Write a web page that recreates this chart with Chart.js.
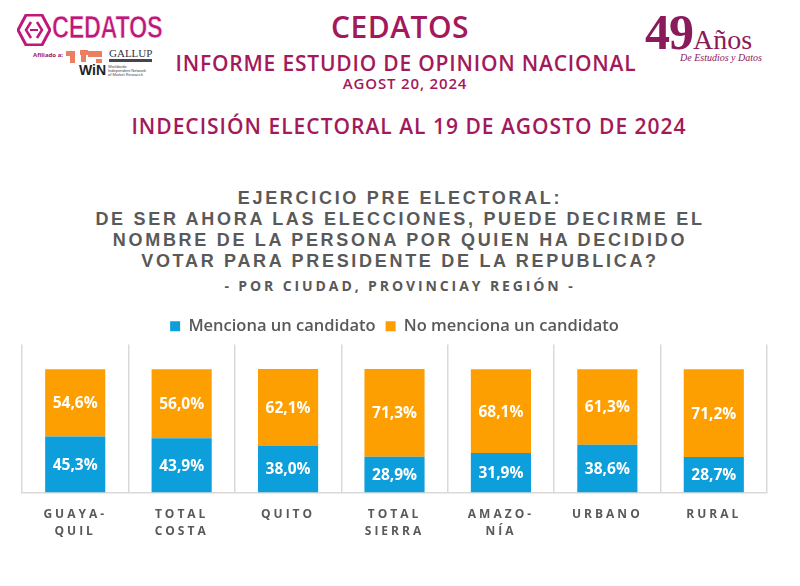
<!DOCTYPE html>
<html><head><meta charset="utf-8">
<script src="https://cdn.jsdelivr.net/npm/chart.js@4.4.1/dist/chart.umd.min.js"></script>
<style>
html,body{margin:0;padding:0;background:#fff;width:800px;height:586px;overflow:hidden;position:relative;font-family:"Open Sans",sans-serif}
.t{position:absolute;left:0;width:800px;text-align:center;color:#a3195b;white-space:nowrap}
#h1{top:6px;font-size:30px;font-weight:600;letter-spacing:0.5px}
#h2{top:49px;left:6px;font-size:21px;font-weight:600;letter-spacing:0.8px}
#h3{top:73px;left:5px;font-size:15px;font-weight:600;letter-spacing:0.85px}
#h4{top:112px;left:9px;font-size:21px;font-weight:600;letter-spacing:1px}
.q{position:absolute;left:0;width:800px;text-align:center;color:#595959;font-family:"Liberation Sans",Arial,sans-serif;font-weight:bold;font-size:18px;letter-spacing:2.7px;line-height:21px;top:188px;white-space:nowrap}
#sub{position:absolute;left:0;width:800px;text-align:center;color:#595959;font-weight:700;font-size:14px;letter-spacing:2.9px;top:276px;white-space:nowrap}
#hex{position:absolute;left:17px;top:14px}
#logoL{position:absolute;left:52px;top:10px;color:#c0187a;font-family:"Liberation Sans Narrow","Liberation Sans",Arial;font-weight:bold;font-size:31px;letter-spacing:-0.5px;-webkit-text-stroke:0.6px #fff;transform:scaleX(0.76);transform-origin:left top}
#logoL2{position:absolute;left:33px;top:51px;font-size:6px;font-weight:bold;color:#a3195b}
#win{position:absolute;left:79px;top:62px;font-family:"Liberation Sans";font-weight:bold;font-size:14px;color:#222}
#win2{position:absolute;left:108px;top:65px;font-family:"Liberation Sans";font-size:4px;line-height:4px;color:#444}
#gal{position:absolute;left:109px;top:47px;font-family:"Liberation Serif";font-size:11px;color:#334;border-bottom:3px solid #445;line-height:12px}
#map{position:absolute;left:64px;top:49px;width:42px;height:16px}
#logoR{position:absolute;left:645px;top:7px;color:#8b1a5a;font-family:"Liberation Serif",serif;font-size:50px;line-height:50px;font-weight:bold;letter-spacing:-1px}
#logoR span{font-size:28px;font-weight:normal;letter-spacing:0}
#logoR2{position:absolute;left:680px;top:52px;color:#8b1a5a;font-family:"Liberation Serif",serif;font-style:italic;font-size:10px}
#wrap{position:absolute;left:0;top:308px;width:800px;height:246px}
</style></head>
<body>
<svg id="hex" width="34" height="32" viewBox="0 0 34 32"><polygon points="9,1 25,1 33,16 25,31 9,31 1,16" fill="none" stroke="#c0187a" stroke-width="3"/><polyline points="14,8 9,16 14,24" fill="none" stroke="#c0187a" stroke-width="2.5"/><polyline points="20,8 25,16 20,24" fill="none" stroke="#c0187a" stroke-width="2.5"/><line x1="13" y1="16" x2="21" y2="16" stroke="#c0187a" stroke-width="2"/></svg>
<div id="logoL">CEDATOS</div>
<div id="logoL2">Afiliado a:</div>
<svg id="map" viewBox="0 0 42 16"><g fill="#e8603c" opacity="0.8"><rect x="2" y="2" width="9" height="5"/><rect x="6" y="7" width="5" height="7"/><rect x="16" y="1" width="8" height="5"/><rect x="17" y="6" width="5" height="7"/><rect x="24" y="2" width="14" height="6"/><rect x="32" y="10" width="6" height="4"/></g></svg>
<div id="gal">GALLUP</div>
<div id="win">WiN</div>
<div id="win2">Worldwide<br>Independent Network<br>of Market Research</div>
<div id="logoR">49<span>Años</span></div>
<div id="logoR2">De Estudios y Datos</div>
<div class="t" id="h1">CEDATOS</div>
<div class="t" id="h2">INFORME ESTUDIO DE OPINION NACIONAL</div>
<div class="t" id="h3">AGOST 20, 2024</div>
<div class="t" id="h4">INDECISIÓN ELECTORAL AL 19 DE AGOSTO DE 2024</div>
<div class="q">EJERCICIO PRE ELECTORAL:<br>DE SER AHORA LAS ELECCIONES, PUEDE DECIRME EL<br>NOMBRE DE LA PERSONA POR QUIEN HA DECIDIDO<br>VOTAR PARA PRESIDENTE DE LA REPUBLICA?</div>
<div id="sub">- POR CIUDAD, PROVINCIAY REGIÓN -</div>
<div id="wrap"><canvas id="c" width="800" height="246"></canvas></div>
<script>
const categories = [["GUAYA-","QUIL"],["TOTAL","COSTA"],["QUITO"],["TOTAL","SIERRA"],["AMAZO-","NÍA"],["URBANO"],["RURAL"]];
const menciona = [45.3, 43.9, 38.0, 28.9, 31.9, 38.6, 28.7];
const noMenciona = [54.6, 56.0, 62.1, 71.3, 68.1, 61.3, 71.2];
const seriesNames = ["Menciona un candidato","No menciona un candidato"];

const fmt = v => v.toFixed(1).replace('.', ',') + '%';

const labelPlugin = {
  id:'lbl',
  beforeDatasetsDraw(chart){ chart.ctx.letterSpacing = '0px'; },
  afterDatasetsDraw(chart){
    const ctx = chart.ctx;
    ctx.save();
    ctx.letterSpacing = '0px';
    ctx.font = 'bold 15.5px "Open Sans"';
    ctx.fillStyle = '#fff';
    ctx.textAlign = 'center';
    ctx.textBaseline = 'middle';
    chart.data.datasets.forEach((ds, di) => {
      chart.getDatasetMeta(di).data.forEach((bar, i) => {
        const p = bar.getProps(['x','y','base'], true);
        ctx.fillText(fmt(ds.data[i]), p.x, (p.y + p.base) / 2 + 1);
      });
    });
    ctx.restore();
    ctx.letterSpacing = '3px';
  },
  afterDraw(chart){ chart.ctx.letterSpacing = '0px'; }
};

new Chart(document.getElementById('c'), {
  type:'bar',
  data:{
    labels: categories,
    datasets:[
      {label: seriesNames[0], data: menciona, backgroundColor:'#0c9fdb', barPercentage:0.565, categoryPercentage:1},
      {label: seriesNames[1], data: noMenciona, backgroundColor:'#fe9f01', barPercentage:0.565, categoryPercentage:1}
    ]
  },
  options:{
    responsive:false, animation:false,
    layout:{padding:{left:22, right:33, top:0, bottom:0}},
    plugins:{
      legend:{position:'top', labels:{boxWidth:10, boxHeight:10, color:'#595959', font:{family:'"Open Sans"', size:16.5, weight:'600'}, padding:10}},
      tooltip:{enabled:false}
    },
    scales:{
      x:{stacked:true, grid:{offset:true, color:'#d9d9d9', drawTicks:false, lineWidth:1.5},
         border:{color:'#d9d9d9', width:1.5},
         ticks:{z:1, color:'#595959', font:{family:'"Open Sans"', weight:'bold', size:12, lineHeight:1.4}, padding:14, maxRotation:0, autoSkip:false}},
      y:{stacked:true, min:0, max:120, display:false}
    }
  },
  plugins:[labelPlugin]
});
</script>
</body></html>
